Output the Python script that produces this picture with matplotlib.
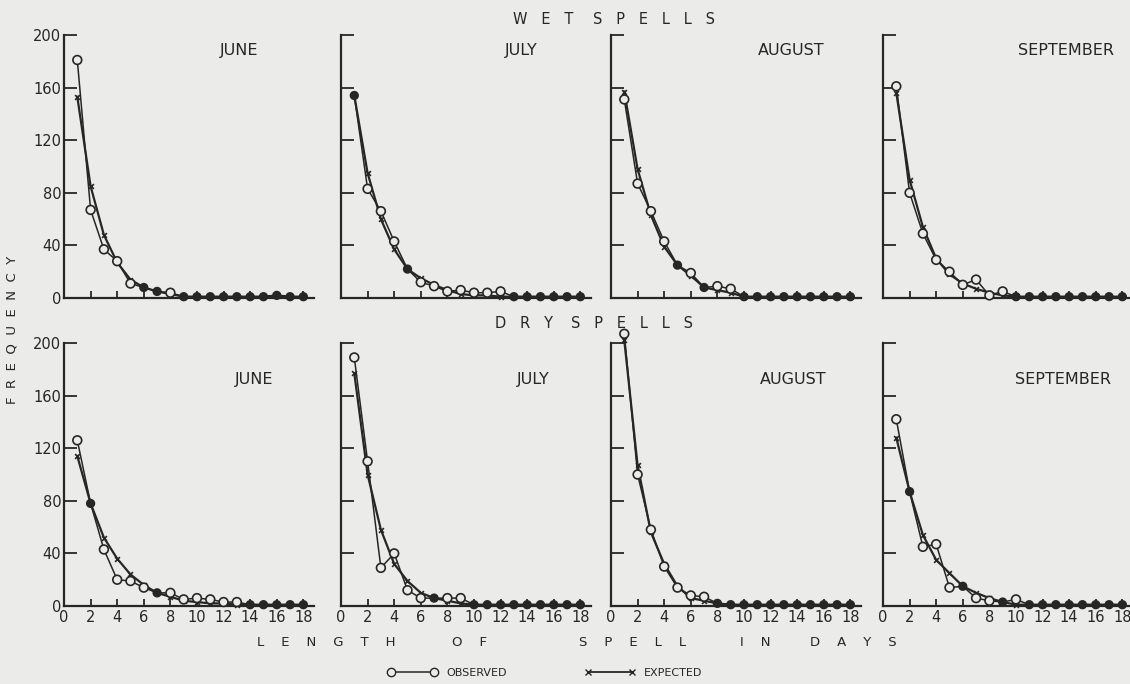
import numpy as np
import matplotlib
matplotlib.use("Agg")
import matplotlib.pyplot as plt
from matplotlib.lines import Line2D

days = list(range(1, 19))
months = ["JUNE", "JULY", "AUGUST", "SEPTEMBER"]

# wet spells (observed / expected frequency)
wet_jun_obs = [181, 67, 37, 28, 11, 8, 5, 4, 1, 1, 1, 1, 1, 1, 1, 2, 1, 1]
wet_jun_exp = [153, 85, 48, 27, 14, 8, 5, 3, 1, 1, 1, 1, 1, 1, 1, 2, 1, 1]
wet_jul_obs = [154, 83, 66, 43, 22, 12, 9, 5, 6, 4, 4, 5, 1, 1, 1, 1, 1, 1]
wet_jul_exp = [154, 95, 60, 37, 22, 15, 10, 6, 3, 2, 2, 1, 1, 1, 1, 1, 1, 1]
wet_aug_obs = [151, 87, 66, 43, 25, 19, 8, 9, 7, 1, 1, 1, 1, 1, 1, 1, 1, 1]
wet_aug_exp = [157, 98, 63, 39, 25, 17, 8, 6, 4, 1, 1, 1, 1, 1, 1, 1, 1, 1]
wet_sep_obs = [161, 80, 49, 29, 20, 10, 14, 2, 5, 1, 1, 1, 1, 1, 1, 1, 1, 1]
wet_sep_exp = [156, 90, 54, 30, 18, 11, 7, 4, 2, 1, 1, 1, 1, 1, 1, 1, 1, 1]

# dry spells
dry_jun_obs = [126, 78, 43, 20, 19, 14, 10, 10, 5, 6, 5, 3, 3, 1, 1, 1, 1, 1]
dry_jun_exp = [114, 78, 52, 36, 24, 16, 10, 7, 4, 3, 2, 2, 1, 1, 1, 1, 1, 1]
dry_jul_obs = [189, 110, 29, 40, 12, 6, 6, 6, 6, 1, 1, 1, 1, 1, 1, 1, 1, 1]
dry_jul_exp = [177, 100, 58, 32, 19, 10, 6, 4, 2, 1, 1, 1, 1, 1, 1, 1, 1, 1]
dry_aug_obs = [207, 100, 58, 30, 14, 8, 7, 2, 1, 1, 1, 1, 1, 1, 1, 1, 1, 1]
dry_aug_exp = [202, 107, 56, 32, 15, 6, 4, 2, 1, 1, 1, 1, 1, 1, 1, 1, 1, 1]
dry_sep_obs = [142, 87, 45, 47, 14, 15, 6, 4, 3, 5, 1, 1, 1, 1, 1, 1, 1, 1]
dry_sep_exp = [128, 87, 54, 35, 25, 15, 10, 6, 3, 1, 1, 1, 1, 1, 1, 1, 1, 1]

wet = [(wet_jun_obs, wet_jun_exp), (wet_jul_obs, wet_jul_exp),
       (wet_aug_obs, wet_aug_exp), (wet_sep_obs, wet_sep_exp)]
dry = [(dry_jun_obs, dry_jun_exp), (dry_jul_obs, dry_jul_exp),
       (dry_aug_obs, dry_aug_exp), (dry_sep_obs, dry_sep_exp)]

paper = "#ebebea"
ink = "#262626"

W, H = 1130, 684
fig = plt.figure(figsize=(W / 100, H / 100), dpi=100, facecolor=paper)

lefts = [64, 341, 611, 883]
bottoms = [298, 606]
title_pos = [[(0.70, 0.94), (0.72, 0.94), (0.72, 0.94), (0.73, 0.94)],
             [(0.76, 0.86), (0.77, 0.86), (0.73, 0.86), (0.72, 0.86)]]


def spaced(word, gap="  "):
    return gap.join(word)


def draw_panel(ax, obs, exp, row, col):
    ax.set_facecolor("none")
    ax.plot(days, exp, color=ink, lw=1.6, zorder=2, clip_on=False)
    ax.plot(days, obs, color=ink, lw=1.1, zorder=2, clip_on=False)
    same = [o == e for o, e in zip(obs, exp)]
    ax.scatter(days, exp, marker="x", s=12, color=ink, lw=1.2, zorder=3, clip_on=False)
    fc = [ink if s else paper for s in same]
    sz = [30 if s else 40 for s in same]
    ax.scatter(days, obs, marker="o", s=sz, facecolors=fc, edgecolors=ink,
               lw=1.2, zorder=4, clip_on=False)
    ax.set_xlim(0, 18.8)
    ax.set_ylim(0, 200)
    for s in ["top", "right"]:
        ax.spines[s].set_visible(False)
    for s in ["left", "bottom"]:
        ax.spines[s].set_color(ink)
        ax.spines[s].set_linewidth(1.6)
    ax.set_yticks(range(0, 201, 40))
    ax.set_xticks(range(0, 19, 2))
    ax.tick_params(axis="y", direction="in", length=9, width=1.3, color=ink,
                   labelsize=10.5, labelcolor=ink, pad=2)
    ax.tick_params(axis="x", direction="in", length=5, width=1.3, color=ink,
                   labelsize=10.5, labelcolor=ink, pad=3)
    if col != 0:
        ax.set_yticklabels([])
    if row == 0:
        ax.set_xticklabels([])
    tx, ty = title_pos[row][col]
    ax.text(tx, ty, months[col], transform=ax.transAxes, ha="center", va="center",
            fontsize=11.5, color=ink)


for row, data in enumerate([wet, dry]):
    for col, (obs, exp) in enumerate(data):
        rect = [lefts[col] / W, 1 - bottoms[row] / H, 250 / W, 263 / H]
        ax = fig.add_axes(rect)
        draw_panel(ax, obs, exp, row, col)

# row headings
for word, x, y in [("WET", 543, 20), ("SPELLS", 654, 20),
                   ("DRY", 524, 323), ("SPELLS", 632, 323)]:
    fig.text(x / W, 1 - y / H, spaced(word, "   "), ha="center", va="center",
             fontsize=10.5, color=ink)

fig.text(12 / W, 1 - 330 / H, spaced("FREQUENCY", "  "), rotation=90, ha="center",
         va="center", fontsize=9.5, color=ink)

for word, x in [("LENGTH", 326), ("OF", 470), ("SPELL", 633), ("IN", 755), ("DAYS", 853)]:
    fig.text(x / W, 1 - 643 / H, spaced(word, "    "), ha="center", va="center",
             fontsize=9.5, color=ink)

handles = [
    Line2D([0], [0], color=ink, lw=1.1, marker="o", markersize=6,
           markerfacecolor=paper, markeredgecolor=ink),
    Line2D([0], [0], color=ink, lw=1.3, marker="x", markersize=4),
]
fig.legend(handles, ["OBSERVED", "EXPECTED"], ncol=2, frameon=False,
           loc="center", bbox_to_anchor=(545 / W, 1 - 673 / H), fontsize=8,
           labelcolor=ink, numpoints=2, handlelength=4.5, columnspacing=7,
           handletextpad=0.8)

fig.savefig("out.png", dpi=100, facecolor=paper)
